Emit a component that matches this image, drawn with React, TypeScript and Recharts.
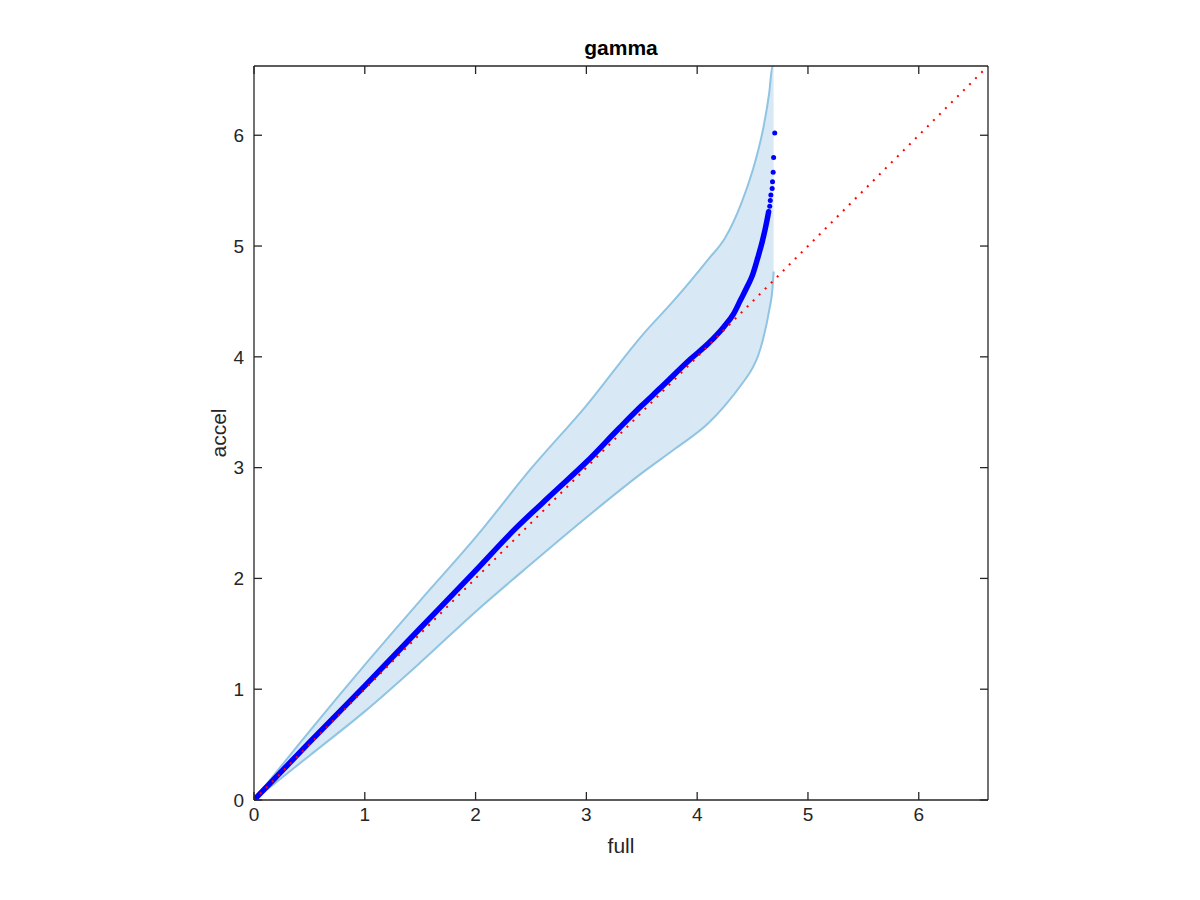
import { ComposedChart, Area, Line, XAxis, YAxis } from 'recharts';

// confidence band (x grid, lower and upper edge)
const bandX = [0, 0.5, 1.0, 1.5, 2.0, 2.5, 3.0, 3.5, 3.8, 4.1, 4.25, 4.4, 4.5, 4.55, 4.6, 4.65, 4.68, 4.69];
const bandLow = [0, 0.4, 0.8, 1.24, 1.7, 2.13, 2.55, 2.95, 3.17, 3.4, 3.56, 3.75, 3.9, 4.01, 4.18, 4.42, 4.62, 4.77];
const bandHigh = [0, 0.62, 1.22, 1.8, 2.37, 2.99, 3.56, 4.19, 4.52, 4.88, 5.07, 5.39, 5.68, 5.86, 6.08, 6.38, 6.625, 6.625];

// quantiles: dense part
const qqX = [0, 0.5, 1.0, 1.5, 2.0, 2.35, 2.7, 3.0, 3.3, 3.5, 3.67, 3.94, 4.1, 4.24, 4.33, 4.39, 4.45, 4.5, 4.54, 4.59, 4.63, 4.645];
const qqY = [0, 0.52, 1.03, 1.55, 2.07, 2.44, 2.77, 3.05, 3.36, 3.56, 3.72, 3.98, 4.12, 4.27, 4.39, 4.51, 4.63, 4.74, 4.87, 5.05, 5.23, 5.31];

// quantiles: sparse tail
const tailX = [4.655, 4.66, 4.665, 4.677, 4.68, 4.686, 4.69, 4.7];
const tailY = [5.36, 5.41, 5.46, 5.52, 5.58, 5.665, 5.8, 6.02];

const refX = [0, 6.625];
const refY = [0, 6.625];

const ticks = [0, 1, 2, 3, 4, 5, 6];
const axisMax = 6.625;

const band = bandX.map((x, i) => ({ x, range: [bandLow[i], bandHigh[i]] }));
const qq = qqX.map((x, i) => ({ x, y: qqY[i] }));
const tail = tailX.map((x, i) => ({ x, y: tailY[i] }));
const ref = refX.map((x, i) => ({ x, y: refY[i] }));

const axisColor = '#262626';
const font = '"Liberation Sans", Helvetica, Arial, sans-serif';
const TICK_LEN = 8;
const X_GAP = 8;
const Y_GAP = 10;

// MATLAB-style ticks: drawn inside the box, label outside
function BottomTick({ x, y, payload }: any) {
  const base = y - X_GAP;
  return (
    <g>
      <line x1={x} x2={x} y1={base} y2={base - TICK_LEN} stroke={axisColor} strokeWidth={1.3} />
      <text x={x} y={y} dy="0.71em" textAnchor="middle" fontSize={19} fill={axisColor} fontFamily={font}>
        {payload.value}
      </text>
    </g>
  );
}

function LeftTick({ x, y, payload }: any) {
  const base = x + Y_GAP;
  return (
    <g>
      <line x1={base} x2={base + TICK_LEN} y1={y} y2={y} stroke={axisColor} strokeWidth={1.3} />
      <text x={x} y={y} dy="0.355em" textAnchor="end" fontSize={19} fill={axisColor} fontFamily={font}>
        {payload.value}
      </text>
    </g>
  );
}

function TopTick({ x, y }: any) {
  return <line x1={x} x2={x} y1={y} y2={y + TICK_LEN} stroke={axisColor} strokeWidth={1.3} />;
}

function RightTick({ x, y }: any) {
  return <line x1={x} x2={x - TICK_LEN} y1={y} y2={y} stroke={axisColor} strokeWidth={1.3} />;
}

export default function App() {
  return (
    <div style={{ position: 'absolute', left: 0, top: 0, width: 1200, height: 900, background: '#fff' }}>
      <ComposedChart
        width={1200}
        height={900}
        margin={{ top: 65, right: 211, bottom: 60, left: 184 }}
      >
        <XAxis
          type="number"
          dataKey="x"
          domain={[0, axisMax]}
          ticks={ticks}
          allowDataOverflow
          height={40}
          tickSize={0}
          tickMargin={X_GAP}
          tickLine={false}
          tick={BottomTick}
          stroke={axisColor}
          strokeWidth={1.3}
          label={{ value: 'full', position: 'bottom', offset: -2, fontSize: 21, fill: axisColor, fontFamily: font }}
        />
        {/* box top edge: 1px tall axis so it renders */}
        <XAxis
          xAxisId="top"
          orientation="top"
          type="number"
          dataKey="x"
          domain={[0, axisMax]}
          ticks={ticks}
          allowDataOverflow
          height={1}
          tickSize={0}
          tickMargin={0}
          tickLine={false}
          tick={TopTick}
          stroke={axisColor}
          strokeWidth={1.3}
          label={{ value: 'gamma', position: 'top', offset: 10, fontSize: 21, fontWeight: 'bold', fill: '#000', fontFamily: font }}
        />
        <YAxis
          type="number"
          domain={[0, axisMax]}
          ticks={ticks}
          allowDataOverflow
          width={70}
          tickSize={0}
          tickMargin={Y_GAP}
          tickLine={false}
          tick={LeftTick}
          stroke={axisColor}
          strokeWidth={1.3}
          label={{ value: 'accel', position: 'center', angle: -90, fontSize: 21, fill: axisColor, fontFamily: font }}
        />
        <YAxis
          yAxisId="right"
          orientation="right"
          type="number"
          domain={[0, axisMax]}
          ticks={ticks}
          allowDataOverflow
          width={1}
          tickSize={0}
          tickMargin={0}
          tickLine={false}
          tick={RightTick}
          stroke={axisColor}
          strokeWidth={1.3}
        />
        <Area
          data={band}
          dataKey="range"
          type="monotone"
          fill="#d9e8f5"
          fillOpacity={1}
          stroke="#8fc4e2"
          strokeWidth={2}
          isAnimationActive={false}
        />
        <Line
          data={qq}
          dataKey="y"
          type="monotone"
          stroke="#0000ff"
          strokeWidth={5.5}
          strokeLinecap="round"
          dot={false}
          isAnimationActive={false}
        />
        <Line
          data={tail}
          dataKey="y"
          type="linear"
          stroke="none"
          dot={{ r: 2.5, fill: '#0000ff', stroke: '#0000ff', strokeWidth: 0 }}
          isAnimationActive={false}
        />
        <Line
          data={ref}
          xAxisId="top"
          yAxisId="right"
          dataKey="y"
          type="linear"
          stroke="#ff0000"
          strokeWidth={2}
          strokeDasharray="2 6.5"
          dot={false}
          isAnimationActive={false}
        />
      </ComposedChart>
    </div>
  );
}
